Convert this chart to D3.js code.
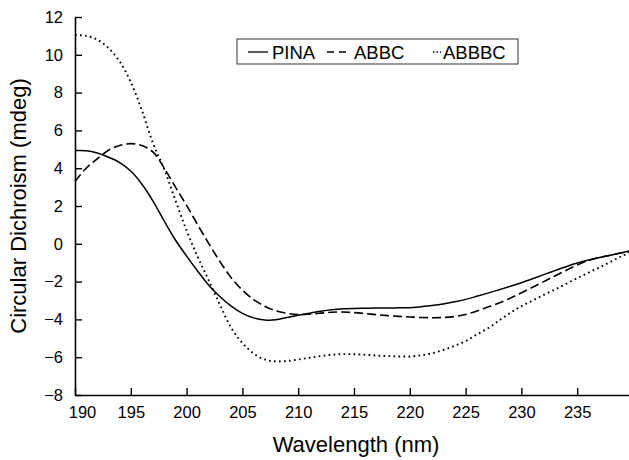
<!DOCTYPE html>
<html>
<head>
<meta charset="utf-8">
<script src="https://cdnjs.cloudflare.com/ajax/libs/d3/7.8.5/d3.min.js"></script>
<style>
	body { margin: 0; background: #fff; }
	svg { display: block; font-family: "Liberation Sans", Arial, sans-serif; }
</style>
</head>
<body>
<div id="chart"></div>
<script>
// Wavelength grid (nm) shared by all three spectra
var wavelength = d3.range(190, 241, 1);

// One value per nm (mdeg)
var pina = [4.93, 4.92, 4.8, 4.58, 4.3, 3.85, 3.15, 2.25, 1.2, 0.2,
	-0.65, -1.45, -2.2, -2.8, -3.3, -3.68, -3.92, -4.03, -4.02, -3.9,
	-3.78, -3.67, -3.57, -3.49, -3.44, -3.42, -3.41, -3.4, -3.4, -3.39,
	-3.38, -3.33, -3.27, -3.19, -3.07, -2.94, -2.78, -2.61, -2.43, -2.25,
	-2.06, -1.85, -1.63, -1.42, -1.21, -1.02, -0.86, -0.73, -0.61, -0.47, -0.36];

var abbc = [3.3, 4.0, 4.5, 4.95, 5.2, 5.3, 5.2, 4.85, 4.0, 3.0,
	2.03, 1.0, 0.0, -0.95, -1.8, -2.45, -2.95, -3.3, -3.55, -3.68,
	-3.74, -3.72, -3.67, -3.62, -3.61, -3.64, -3.69, -3.75, -3.8, -3.84,
	-3.87, -3.9, -3.91, -3.9, -3.85, -3.74, -3.56, -3.35, -3.13, -2.88,
	-2.59, -2.3, -2.0, -1.7, -1.41, -1.12, -0.88, -0.72, -0.6, -0.47, -0.36];

var abbbc = [11.05, 11.0, 10.8, 10.35, 9.65, 8.55, 7.05, 5.3, 3.95, 2.3,
	0.7, -0.7, -1.95, -3.25, -4.45, -5.25, -5.8, -6.12, -6.22, -6.2,
	-6.12, -6.03, -5.94, -5.87, -5.84, -5.84, -5.87, -5.91, -5.94, -5.96,
	-5.96, -5.9, -5.79, -5.62, -5.4, -5.15, -4.8, -4.47, -4.06, -3.66,
	-3.3, -3.0, -2.7, -2.42, -2.12, -1.82, -1.53, -1.25, -0.95, -0.65, -0.4];

var seriesNames = ["PINA", "ABBC", "ABBBC"];
var xTicks = [190, 195, 200, 205, 210, 215, 220, 225, 230, 235, 240];
var yTicks = [-8, -6, -4, -2, 0, 2, 4, 6, 8, 10, 12];

// Set chart size
var W = 629, H = 460;
var margin = { top: 17, right: -4, bottom: 65, left: 75 },
	width = W - margin.left - margin.right,
	height = H - margin.top - margin.bottom;

var x = d3.scaleLinear().domain([190, 240]).range([0, width]);
var y = d3.scaleLinear().domain([-8, 12]).range([height, 0]);

var svg = d3.select("#chart")
	.append("svg")
	.attr("width", W)
	.attr("height", H);

var g = svg.append("g")
	.attr("transform", "translate(" + margin.left + "," + margin.top + ")");

// Line styles per series
var dashes = ["none", "9,4", "1.7,3.3"];
var widths = [1.5, 1.6, 1.9];
var series = seriesNames.map(function (name, i) {
	var vals = [pina, abbc, abbbc][i];
	return {
		name: name,
		dash: dashes[i],
		sw: widths[i],
		points: wavelength.map(function (w, j) { return { w: w, v: vals[j] }; })
	};
});

var line = d3.line()
	.x(function (d) { return x(d.w); })
	.y(function (d) { return y(d.v); })
	.curve(d3.curveCatmullRom.alpha(0.5));

g.selectAll(".spectrum")
	.data(series)
	.enter()
	.append("path")
	.attr("class", "spectrum")
	.attr("d", function (d) { return line(d.points); })
	.attr("fill", "none")
	.attr("stroke", "#000")
	.attr("stroke-width", function (d) { return d.sw; })
	.attr("stroke-dasharray", function (d) { return d.dash; });

// X axis, ticks pointing inward
var xAxis = g.append("g")
	.attr("transform", "translate(0," + height + ")")
	.call(d3.axisBottom(x)
		.tickValues(xTicks)
		.tickSizeInner(-7)
		.tickSizeOuter(0)
		.tickPadding(11)
		.tickFormat(function (d) { return d === 240 ? "" : d; }));

// first label sits a bit right of its tick in the original
xAxis.selectAll(".tick text")
	.attr("dx", function (d) { return d === 190 ? 7 : 0; });

// Y axis, ticks pointing inward
var yAxis = g.append("g")
	.call(d3.axisLeft(y)
		.tickValues(yTicks)
		.tickSizeInner(-7)
		.tickSizeOuter(0)
		.tickPadding(12));

[xAxis, yAxis].forEach(function (a) {
	a.select(".domain").attr("stroke", "#000").attr("stroke-width", 1.6);
	a.selectAll(".tick line").attr("stroke", "#000").attr("stroke-width", 1.4);
	a.selectAll(".tick text")
		.attr("fill", "#000")
		.style("font-size", "16.5px")
		.style("font-family", "'Liberation Sans', Arial, sans-serif");
});

// Axis titles
svg.append("text")
	.attr("x", 356)
	.attr("y", 452)
	.attr("text-anchor", "middle")
	.style("font-size", "22px")
	.text("Wavelength (nm)");

svg.append("text")
	.attr("transform", "translate(26," + (margin.top + height / 2) + ") rotate(-90)")
	.attr("text-anchor", "middle")
	.style("font-size", "22px")
	.text("Circular Dichroism (mdeg)");

// Legend box
var legend = svg.append("g").attr("transform", "translate(237,39)");
legend.append("rect")
	.attr("width", 281)
	.attr("height", 25)
	.attr("fill", "#fff")
	.attr("stroke", "#333")
	.attr("stroke-width", 1);

var legendLines = [[11, 31], [90, 111], [196, 204]];
var legendDash = ["none", "7,5", "1.5,2"];
var legendText = [35, 117, 206];
var items = legend.selectAll(".item")
	.data(series)
	.enter()
	.append("g")
	.attr("class", "item");

items.append("line")
	.attr("x1", function (d, i) { return legendLines[i][0]; })
	.attr("x2", function (d, i) { return legendLines[i][1]; })
	.attr("y1", 13)
	.attr("y2", 13)
	.attr("stroke", "#000")
	.attr("stroke-width", 1.3)
	.attr("stroke-dasharray", function (d, i) { return legendDash[i]; });

items.append("text")
	.attr("x", function (d, i) { return legendText[i]; })
	.attr("y", 19.5)
	.style("font-size", "18.5px")
	.text(function (d) { return d.name; });
</script>
</body>
</html>
